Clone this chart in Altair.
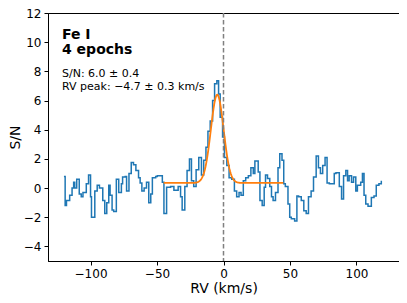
import altair as alt
import numpy as np
import pandas as pd

rv = [-120, -119.1, -118.1, -115.7, -113.9, -112.7, -111.9, -110.4, -108.5, -107, -105.7, -103.2,
      -101.5, -100, -99.3, -96.8, -95, -93.3, -90.8, -89.3, -87.8, -86.3, -85.3, -83.8, -82.6,
      -80.6, -78.8, -76.8, -75.9, -73.9, -72.9, -71.1, -69.4, -67.7, -65.9, -63.9, -62.7, -61.4,
      -59.7, -57.9, -56.2, -54.7, -53.5, -51, -49.8, -46, -44.8, -42.8, -39.8, -37.3, -34.1,
      -32.3, -31.1, -29.1, -27.4, -25.6, -24.1, -22.4, -20.6, -18.6, -16.6, -14.9, -13.2, -11.7,
      -10, -8.2, -6.7, -5, -3.7, -2.5, -0.7, 0.7, 2.5, 4.2, 6.2, 8.2, 9.9, 11.7, 13.2, 14.9,
      16.7, 18.7, 20.6, 22.4, 23.6, 26.1, 27.4, 29.1, 30.6, 31.6, 33.1, 34.8, 36.1, 37.3, 39.1,
      41, 42.3, 44, 45.3, 46.5, 48.5, 49.8, 51, 53.5, 55.2, 56.5, 58.5, 60.4, 62.2, 63.9, 65.9,
      67.7, 69.7, 71.4, 72.9, 74.6, 76.4, 77.9, 79.6, 83.3, 84.6, 87.1, 88.8, 90.3, 92, 93.3,
      94.5, 96.3, 97.8, 99.5, 100.7, 103.2, 104.5, 105.7, 107, 108.7, 111.2, 113.2, 114.9,
      116.9, 118.7]
sn = [0.8, -1.2, -0.85, -0.5, 0.0, 0.4, 0.0, 0.6, -0.4, -0.6, -0.3, 0.3,
      0.9, -0.6, -2.0, -0.2, 0.2, 0.0, -0.85, -1.75, -1.0, 0.2, -0.5, -1.5, -1.6,
      0.6, -0.3, 0.3, 0.75, 0.8, -0.2, 1.0, 1.75, 1.6, 1.2, 0.7, 0.35, -0.2,
      0.0, 0.4, -1.0, -0.4, 0.7, 0.8, 0.85, 0.4, -1.75, 0.05, 0.1, -0.15, 0.1,
      -0.6, -1.5, 0.1, 1.2, 2.0, 0.5, 0.1, 1.25, 2.1, 0.9, 1.9, 2.8, 3.9,
      4.6, 6.0, 7.15, 7.35, 6.45, 4.85, 3.5, 2.1, 1.55, 0.7, 0.6, -0.2, -0.6, -0.3, -0.5, 0.5,
      0.7, 0.85, 1.4, 1.0, 1.85, 1.1, -0.85, -1.2, 0.05, 0.9, 0.65, 0.1, -0.6, -0.85, -0.3,
      1.4, 2.35, 1.9, 0.3, 0.1, -1.1, -2.0, -2.1, -2.25, -0.55, -0.6, -0.85, -1.55, -1.75, -0.6, -0.2,
      0.75, 2.2, 1.4, 1.0, 1.55, 2.1, 0.35, 0.3, 1.0, 1.05, 0.1, -0.75, 0.85, 1.2, 0.5,
      0.85, 0.4, 0.75, -0.2, 0.2, 0.4, 1.0, -0.5, -1.1, -1.25, -0.65, -0.55, 0.2,
      0.3, 0.5]
assert len(rv) == len(sn)

x_ticks = [-100, -50, 0, 50, 100]
y_ticks = [-4, -2, 0, 2, 4, 6, 8, 10, 12]

# Gaussian fit parameters (from the annotation / picture)
fit_amp = 6.05
fit_center = -4.7
fit_sigma = 4.8
fit_offset = 0.35
fit_range = [-45, 45]

fit_x = np.linspace(fit_range[0], fit_range[1], 181)
fit_y = fit_offset + fit_amp * np.exp(-0.5 * ((fit_x - fit_center) / fit_sigma) ** 2)

obs = pd.DataFrame({"rv": rv, "sn": sn})
fit = pd.DataFrame({"rv": fit_x, "sn": fit_y})

xscale = alt.Scale(domain=[-132, 132], nice=False, zero=False)
yscale = alt.Scale(domain=[-5, 12], nice=False, zero=False)

common = dict(grid=False, tickSize=4, labelFontSize=12, titleFontSize=14,
              titleFontWeight="normal", domainColor="black", tickColor="black",
              labelColor="black", titleColor="black", labelPadding=3,
              labelFont="DejaVu Sans", titleFont="DejaVu Sans", labelOverlap=False)
xaxis = alt.Axis(title="RV (km/s)", values=x_ticks, titlePadding=2, **common)
yaxis = alt.Axis(title="S/N", values=y_ticks, titlePadding=1, **common)

X = alt.X("rv:Q", scale=xscale, axis=xaxis)
Y = alt.Y("sn:Q", scale=yscale, axis=yaxis)

line = alt.Chart(obs).mark_line(interpolate="step-after", color="#1f77b4", strokeWidth=1.5).encode(
    x=X, y=Y)

fitline = alt.Chart(fit).mark_line(color="#ff7f0e", strokeWidth=1.8).encode(x=X, y=Y)

zero = alt.Chart(pd.DataFrame({"rv": [0]})).mark_rule(
    color="#808080", strokeDash=[4.5, 2.5], strokeWidth=1.5
).encode(x=X)

title_lines = pd.DataFrame({"t": ["Fe I", "4 epochs"], "py": [26, 41.3]})
stat_lines = pd.DataFrame({
    "t": ["S/N: 6.0 \u00b1 0.4", "RV peak: \u22124.7 \u00b1 0.3 km/s"],
    "py": [64.3, 77.3],
})

titles = alt.Chart(title_lines).mark_text(
    align="left", baseline="alphabetic", font="DejaVu Sans", fontWeight="bold",
    fontSize=14, color="black"
).encode(x=alt.value(14), y=alt.Y("py:Q", scale=None), text="t:N")

stats = alt.Chart(stat_lines).mark_text(
    align="left", baseline="alphabetic", font="DejaVu Sans", fontSize=11, color="black"
).encode(x=alt.value(14), y=alt.Y("py:Q", scale=None), text="t:N")

chart = alt.layer(line, fitline, zero, titles, stats).properties(
    width=351, height=248,
    autosize=alt.AutoSizeParams(type="none"),
    padding={"left": 40, "top": 5, "right": 0, "bottom": 34},
).configure_view(stroke="black", strokeWidth=1)

chart.save("out.html", embed_options={"renderer": "svg", "actions": False})
